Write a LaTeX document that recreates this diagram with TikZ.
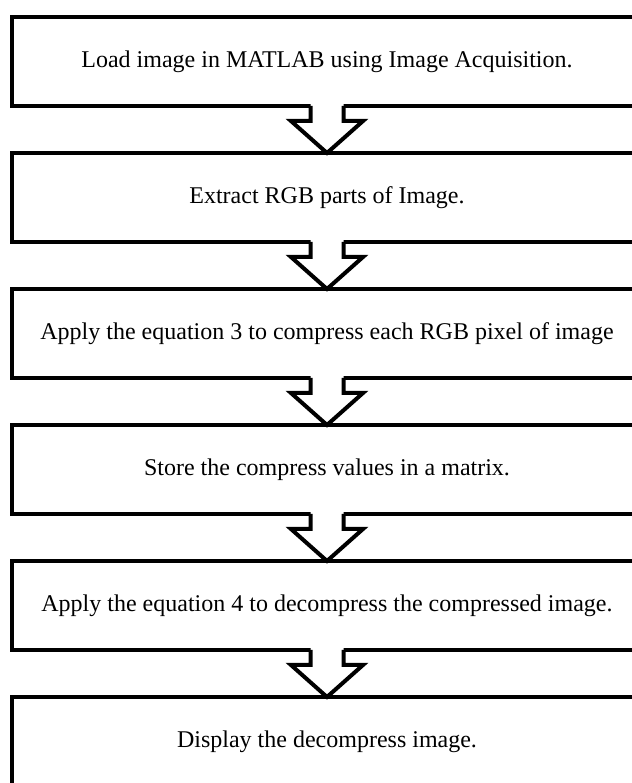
\documentclass[tikz,border=0pt]{standalone}
\usepackage{fontspec}
\setmainfont{Liberation Serif}
\usetikzlibrary{calc}

\tikzset{
  stepbox/.style={draw, line width=2pt, minimum width=315pt, minimum height=44.5pt,
    inner sep=0pt, outer sep=0pt, font=\fontsize{12}{14}\selectfont},
  flowarrow/.style={line width=2pt, line join=miter}
}

\begin{document}
\begin{tikzpicture}[x=0.5pt,y=0.5pt]
  \clip (0,0) rectangle (632,783);
  % steps
  \node[stepbox] (load)   at (327,721.5) {Load image in MATLAB using Image Acquisition.};
  \node[stepbox] (rgb)    at (327,585.5) {Extract RGB parts of Image.};
  \node[stepbox] (comp)   at (327,449.5) {Apply the equation 3 to compress each RGB pixel of image};
  \node[stepbox] (store)  at (327,313.5) {Store the compress values in a matrix.};
  \node[stepbox] (decomp) at (327,177.5) {Apply the equation 4 to decompress the compressed image.};
  \node[stepbox] (show)   at (327,41.5)  {Display the decompress image.};
  % hollow arrows between steps
  \foreach \a/\b in {load/rgb, rgb/comp, comp/store, store/decomp, decomp/show} {
    \fill[white] ($(\a.south)+(-16.5,2.5)$) -- ($(\a.south)+(-16.5,-15)$) -- ($(\a.south)+(-36,-15)$)
      -- (\b.north) -- ($(\a.south)+(36,-15)$) -- ($(\a.south)+(16.5,-15)$) -- ($(\a.south)+(16.5,2.5)$) -- cycle;
    \draw[flowarrow] ($(\a.south)+(-16.5,0)$) -- ($(\a.south)+(-16.5,-15)$) -- ($(\a.south)+(-36,-15)$)
      -- (\b.north) -- ($(\a.south)+(36,-15)$) -- ($(\a.south)+(16.5,-15)$) -- ($(\a.south)+(16.5,0)$);
  }
\end{tikzpicture}
\end{document}
